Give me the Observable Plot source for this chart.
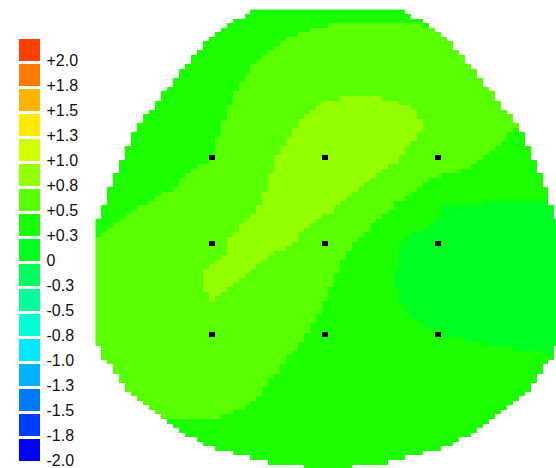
<!DOCTYPE html>
<html>
<head>
<meta charset="utf-8">
<script src="https://cdn.jsdelivr.net/npm/d3@7"></script>
<script src="https://cdn.jsdelivr.net/npm/@observablehq/plot@0.6"></script>
<style>
  html, body { margin: 0; padding: 0; background: #fff; }
  #chart { position: relative; width: 556px; height: 468px; overflow: hidden; }
  #chart svg { position: absolute; top: 0; left: 0; }
</style>
</head>
<body>
<div id="chart"></div>
<script>
// Potential levels of the colour key, top to bottom, and their printed labels
const legendValues = [2, 1.75, 1.5, 1.25, 1, 0.75, 0.5, 0.25, 0, -0.25, -0.5, -0.75, -1, -1.25, -1.5, -1.75, -2];
const legendLabels = ["+2.0", "+1.8", "+1.5", "+1.3", "+1.0", "+0.8", "+0.5", "+0.3", "0",
                      "-0.3", "-0.5", "-0.8", "-1.0", "-1.3", "-1.5", "-1.8", "-2.0"];
const palette = ["#FF4000", "#FF7C00", "#FFB400", "#FFEA00", "#CFFF00", "#93FF00", "#58FF00", "#1CFF00", "#00FF20",
                 "#00FF5C", "#00FF97", "#00FFD3", "#00EBFF", "#00B3FF", "#0078FF", "#003CFF", "#0000FF"];

// Electrode sites in head coordinates (left/right = x, front/back = y)
const electrodeNames = ["F3", "Fz", "F4", "C3", "Cz", "C4", "P3", "Pz", "P4"];
const electrodeX = [-0.5, -0.013, 0.474, -0.5, -0.013, 0.474, -0.5, -0.013, 0.474];
const electrodeY = [0.356, 0.356, 0.356, -0.02, -0.02, -0.02, -0.416, -0.416, -0.416];

// Head outline: half-width of the scalp at a given front/back position
const outlineY = [0.990, 0.931, 0.871, 0.753, 0.624, 0.485, 0.386, 0.257, 0.119, 0.059,
                  -0.455, -0.535, -0.644, -0.713, -0.792, -0.852, -0.911, -0.951, -0.970, -0.990];
const outlineHalfWidth = [0.333, 0.436, 0.513, 0.615, 0.718, 0.821, 0.872, 0.923, 0.974, 1.0,
                          1.0, 0.949, 0.872, 0.795, 0.692, 0.615, 0.487, 0.333, 0.256, 0.103];

// Potential sampled on a regular 13 x 13 lattice over the head (rows front to back)
const gridX = [-1, -0.833, -0.667, -0.5, -0.333, -0.167, 0, 0.167, 0.333, 0.5, 0.667, 0.833, 1];
const gridY = [1, 0.833, 0.667, 0.5, 0.333, 0.167, 0, -0.167, -0.333, -0.5, -0.667, -0.833, -1];
const gridValues = [
  [0.14, 0.15, 0.17, 0.20, 0.26, 0.30, 0.33, 0.33, 0.33, 0.34, 0.35, 0.36, 0.36],
  [0.15, 0.17, 0.20, 0.26, 0.335, 0.40, 0.44, 0.455, 0.445, 0.415, 0.42, 0.42, 0.42],
  [0.16, 0.19, 0.225, 0.315, 0.405, 0.51, 0.57, 0.578, 0.567, 0.52, 0.45, 0.40, 0.36],
  [0.18, 0.20, 0.26, 0.345, 0.46, 0.60, 0.726, 0.758, 0.688, 0.568, 0.466, 0.37, 0.30],
  [0.22, 0.275, 0.325, 0.385, 0.537, 0.683, 0.758, 0.723, 0.60, 0.478, 0.36, 0.275, 0.25],
  [0.31, 0.355, 0.40, 0.48, 0.58, 0.726, 0.699, 0.525, 0.345, 0.14, 0.13, 0.12, 0.12],
  [0.375, 0.43, 0.50, 0.57, 0.697, 0.656, 0.494, 0.33, 0.11, 0.05, 0.04, 0.02, 0.0],
  [0.48, 0.53, 0.52, 0.66, 0.618, 0.505, 0.40, 0.23, 0.08, 0.04, 0.015, 0.0, -0.02],
  [0.50, 0.55, 0.58, 0.60, 0.53, 0.44, 0.35, 0.23, 0.13, 0.08, 0.06, 0.05, 0.04],
  [0.50, 0.53, 0.55, 0.54, 0.47, 0.38, 0.30, 0.25, 0.20, 0.17, 0.15, 0.135, 0.12],
  [0.45, 0.47, 0.48, 0.46, 0.40, 0.31, 0.28, 0.26, 0.24, 0.21, 0.19, 0.18, 0.17],
  [0.34, 0.34, 0.34, 0.34, 0.32, 0.29, 0.27, 0.26, 0.24, 0.22, 0.21, 0.20, 0.19],
  [0.32, 0.32, 0.32, 0.32, 0.30, 0.28, 0.27, 0.26, 0.25, 0.22, 0.22, 0.22, 0.22]
];

// Threshold colour scale: each key level owns the band halfway to its neighbours
const ascendingLevels = legendValues.slice().reverse();
const thresholds = d3.pairs(ascendingLevels, (a, b) => (a + b) / 2);
const colorScale = {type: "threshold", domain: thresholds, range: palette.slice().reverse()};

const colAt = d3.scaleLinear(gridX, d3.range(gridX.length)).clamp(true);
const rowAt = d3.scaleLinear(gridY, d3.range(gridY.length)).clamp(true);
const halfWidthAt = d3.scaleLinear(outlineY, outlineHalfWidth).clamp(true);

// Bilinear lookup in the lattice; nothing outside the scalp
function potential(x, y) {
  if (Math.abs(x) >= halfWidthAt(y)) return NaN;
  const fx = colAt(x), fy = rowAt(y);
  const j = Math.min(Math.floor(fx), gridX.length - 2);
  const k = Math.min(Math.floor(fy), gridY.length - 2);
  const tx = fx - j, ty = fy - k;
  const top = gridValues[k][j] * (1 - tx) + gridValues[k][j + 1] * tx;
  const bottom = gridValues[k + 1][j] * (1 - tx) + gridValues[k + 1][j + 1] * tx;
  return top * (1 - ty) + bottom * ty;
}

// Electrode marker: a small flat rectangle
const electrodeSymbol = {
  draw(context, size) {
    const w = Math.sqrt(size * 4 / 3), h = size / w;
    context.rect(-w / 2, -h / 2, w, h);
  }
};
const electrodes = electrodeNames.map((name, i) => ({name, x: electrodeX[i], y: electrodeY[i]}));

const map = Plot.plot({
  width: 556,
  height: 468,
  margin: 0,
  style: {background: "transparent"},
  x: {domain: [-1, 1], range: [95, 559.9], axis: null},
  y: {domain: [-1, 1], range: [468.55, 9], axis: null},
  color: colorScale,
  marks: [
    Plot.raster({fill: potential, x1: -1, x2: 1, y1: 1, y2: -1, width: 78, height: 101, imageRendering: "pixelated"}),
    Plot.dot(electrodes, {x: "x", y: "y", symbol: electrodeSymbol, r: 3.1, fill: "#000", shapeRendering: "crispEdges"})
  ]
});

const legendItems = legendValues.map((value, i) => ({value, label: legendLabels[i]}));
const key = Plot.plot({
  width: 90,
  height: 468,
  marginLeft: 19,
  marginRight: 50,
  marginTop: 0,
  marginBottom: 0,
  style: {background: "transparent", fontFamily: "'Liberation Sans', Arial, sans-serif"},
  x: {axis: null},
  y: {domain: legendLabels, range: [37, 463], paddingInner: 0.12, paddingOuter: 0, axis: null},
  color: colorScale,
  marks: [
    Plot.cell(legendItems, {y: "label", fill: "value"}),
    Plot.text(legendItems, {
      y: "label", text: "label", frameAnchor: "right", textAnchor: "start",
      dx: 6, dy: 10, fontSize: 16, fill: "#111"
    })
  ]
});

const chart = document.getElementById("chart");
chart.append(map, key);
</script>
</body>
</html>
